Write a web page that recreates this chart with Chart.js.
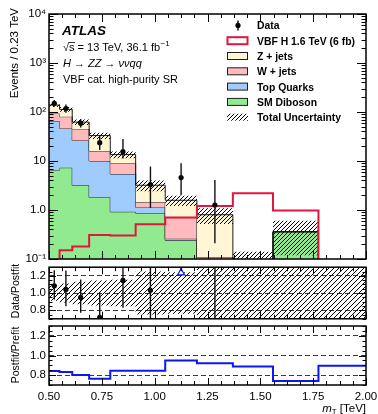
<!DOCTYPE html>
<html>
<head>
<meta charset="utf-8">
<script src="https://cdn.jsdelivr.net/npm/chart.js@4.4.1/dist/chart.umd.min.js"></script>
<style>
  html, body { margin: 0; padding: 0; background: #fff; }
  #page { position: relative; width: 378px; height: 414px; overflow: hidden; }
  #page canvas { position: absolute; left: 0; }
</style>
</head>
<body>
<div id="page">
  <canvas id="mainChart" width="378" height="272" style="top:0"></canvas>
  <canvas id="ratioChart" width="378" height="62" style="top:262px"></canvas>
  <canvas id="prefitChart" width="378" height="90" style="top:324px"></canvas>
</div>
<script>
// bin edges (TeV), variable width bins
const binEdges = [0.50, 0.55, 0.61, 0.69, 0.79, 0.91, 1.05, 1.20, 1.37, 1.56, 1.775, 2.00];

// events / 0.23 TeV per bin
const dibosonEvents = [6.5, 7.3, 3.2, 1.8, 0.92, 0.86, 0.24, 0.05, 0.01, 0.36, 0];
const topEvents     = [59, 39, 23, 8.2, 4.5, 0.27, 0.02, 0, 0, 0, 0];
const wjetsEvents   = [28, 34, 19, 6.0, 3.6, 0.31, 0.44, 0.06, 0.01, 0, 0];
const zjetsEvents   = [45, 33, 17, 17, 4.5, 1.76, 0.88, 0.69, 0.04, 0, 0];
const signalEvents  = [0.09, 0.15, 0.18, 0.31, 0.30, 0.51, 0.70, 1.21, 2.2, 0.98, 0];
const totalRelUnc   = [0.09, 0.11, 0.13, 0.145, 0.155, 0.25, 0.24, 0.35, 1.33, 0.67, 1.0];

const dataEvents  = [150, 118, 59, 23.7, 15.5, 3.3, 4.6, 1.26, null, null, null];
const dataErrDown = [22, 22, 11, 7, 4.3, 2.2, 2.6, 1.05, null, null, null];
const dataErrUp   = [25, 25, 13, 9.5, 12.5, 4.4, 4.4, 2.85, null, null, null];

const postfitOverPrefit = [0.843, 0.833, 0.802, 0.764, 0.846, 0.846, 0.949, 0.922, 0.887, 0.74, 0.897];

const xTickValues = [0.50, 0.75, 1.00, 1.25, 1.50, 1.75, 2.00];
const yMainTickValues = [0.1, 1, 10, 100, 1000, 10000];
const yMainTickLabels = ['10\u207B\u00B9', '1.0', '10', '10\u00B2', '10\u00B3', '10\u2074'];
const yRatioTickValues = [0.8, 1.0, 1.2];
const legendLabels = ['Data', 'VBF H 1.6 TeV (6 fb)', 'Z + jets', 'W + jets', 'Top Quarks', 'SM Diboson', 'Total Uncertainty'];

const colors = {
    zjets: '#fff6d6',
    wjets: '#ffbabe',
    top: '#9fcbfd',
    diboson: '#92ea90',
    signal: '#e2163c',
    edge: '#1e1e1e',
    postfit: '#0c16f2'
};
const FONT = '"Liberation Sans", Arial, Helvetica, sans-serif';

// ---- derived tables ----
const centers = binEdges.slice(0, -1).map((e, i) => (e + binEdges[i + 1]) / 2);
const stack1 = dibosonEvents.slice();
const stack2 = stack1.map((v, i) => v + topEvents[i]);
const stack3 = stack2.map((v, i) => v + wjetsEvents[i]);
const totalEvents = stack3.map((v, i) => v + zjetsEvents[i]);
const bandUp = totalEvents.map((v, i) => v * (1 + totalRelUnc[i]));
const bandDown = totalEvents.map((v, i) => Math.max(0, v * (1 - totalRelUnc[i])));
const ratioValues = dataEvents.map((d, i) => d == null ? null : d / totalEvents[i]);
const ratioMin = 0.7, ratioMax = 1.3;

// empty bins would break a log-scale line, push them far below the axis instead
const logFloor = v => Math.max(v, 1e-4);

function stepPoints(values) {
    const pts = values.map((v, i) => ({ x: binEdges[i], y: v }));
    pts.push({ x: binEdges[binEdges.length - 1], y: values[values.length - 1] });
    return pts;
}

function makeHatch(size) {
    const c = document.createElement('canvas');
    c.width = size; c.height = size;
    const g = c.getContext('2d');
    g.strokeStyle = '#000';
    g.lineWidth = 1;
    g.beginPath();
    g.moveTo(-1, size + 1); g.lineTo(size + 1, -1);
    g.moveTo(-1, 1); g.lineTo(1, -1);
    g.moveTo(size - 1, size + 1); g.lineTo(size + 1, size - 1);
    g.stroke();
    return g.createPattern(c, 'repeat');
}
const hatchMain = makeHatch(4);
const hatchRatio = makeHatch(5);

function stepLine(label, values, extra) {
    return Object.assign({
        label: label,
        data: stepPoints(values),
        stepped: 'before',
        pointRadius: 0,
        borderWidth: 1,
        borderColor: colors.edge
    }, extra);
}

// ---- plugins ----
const errorBars = {
    id: 'errorBars',
    afterDatasetsDraw(chart, args, opts) {
        const { ctx, chartArea: a, scales } = chart;
        ctx.save();
        ctx.beginPath();
        ctx.rect(a.left, a.top, a.width, a.height);
        ctx.clip();
        ctx.strokeStyle = '#111';
        ctx.lineWidth = 1.4;
        (opts.bars || []).forEach(b => {
            const px = scales.x.getPixelForValue(b.x);
            const y1 = b.lo > 0 || scales.y.type !== 'logarithmic' ? scales.y.getPixelForValue(b.lo) : a.bottom + 2;
            const y2 = scales.y.getPixelForValue(b.hi);
            ctx.beginPath();
            ctx.moveTo(px, y1);
            ctx.lineTo(px, y2);
            ctx.stroke();
        });
        ctx.restore();
    }
};

// ROOT-like frame with inward ticks on all four sides
const rootFrame = {
    id: 'rootFrame',
    afterDraw(chart, args, opts) {
        const { ctx, chartArea: a, scales } = chart;
        ctx.save();
        ctx.strokeStyle = '#000';
        ctx.lineWidth = 1;
        ctx.beginPath();
        const xs = scales.x;
        for (let k = 0; k <= 24; k++) {
            const v = xs.min + k * (xs.max - xs.min) / 24;
            const len = k % 4 === 0 ? opts.xMajor : opts.xMinor;
            const px = Math.round(xs.getPixelForValue(v)) + 0.5;
            ctx.moveTo(px, a.bottom); ctx.lineTo(px, a.bottom - len);
            ctx.moveTo(px, a.top); ctx.lineTo(px, a.top + len);
        }
        opts.yTicks.forEach(t => {
            const py = Math.round(scales.y.getPixelForValue(t.v)) + 0.5;
            const len = t.major ? opts.yMajor : opts.yMinor;
            ctx.moveTo(a.left, py); ctx.lineTo(a.left + len, py);
            ctx.moveTo(a.right, py); ctx.lineTo(a.right - len, py);
        });
        ctx.stroke();
        ctx.lineWidth = 1.5;
        ctx.strokeRect(a.left, a.top, a.right - a.left, a.bottom - a.top);
        ctx.restore();
    }
};

function sideTitle(ctx, text, x, y, align, size) {
    ctx.save();
    ctx.translate(x, y);
    ctx.rotate(-Math.PI / 2);
    ctx.textAlign = align;
    ctx.textBaseline = 'middle';
    ctx.font = size + 'px ' + FONT;
    ctx.fillStyle = '#000';
    ctx.fillText(text, 0, 0);
    ctx.restore();
}

const mainLabels = {
    id: 'mainLabels',
    afterDraw(chart) {
        const ctx = chart.ctx;
        ctx.save();
        ctx.fillStyle = '#000';
        ctx.textBaseline = 'alphabetic';
        ctx.textAlign = 'left';

        ctx.font = 'italic bold 13.5px ' + FONT;
        ctx.fillText('ATLAS', 62, 35);

        // sqrt(s) line
        ctx.font = '11px ' + FONT;
        let x = 63;
        ctx.fillText('\u221A', x, 51);
        x += ctx.measureText('\u221A').width;
        const sw = ctx.measureText('s').width;
        ctx.fillText('s', x, 51);
        ctx.lineWidth = 0.8;
        ctx.beginPath(); ctx.moveTo(x - 0.5, 42.5); ctx.lineTo(x + sw + 0.5, 42.5); ctx.stroke();
        x += sw;
        const txt = ' = 13 TeV, 36.1 fb';
        ctx.fillText(txt, x, 51);
        x += ctx.measureText(txt).width;
        ctx.font = '8px ' + FONT;
        ctx.fillText('\u22121', x + 0.5, 46);

        ctx.font = 'italic 11px ' + FONT;
        ctx.fillText('H \u2192 ZZ \u2192 \u03BD\u03BDqq', 63, 67);
        ctx.font = '11px ' + FONT;
        ctx.fillText('VBF cat. high-purity SR', 63, 83);

        // legend
        const fills = [null, '#fff', colors.zjets, colors.wjets, colors.top, colors.diboson, hatchMain];
        legendLabels.forEach((label, i) => {
            const base = 29.3 + i * 15.3;
            const cy = base - 3.9;
            if (i === 0) {
                ctx.strokeStyle = '#000';
                ctx.lineWidth = 1.4;
                ctx.beginPath(); ctx.moveTo(238, cy - 5); ctx.lineTo(238, cy + 5); ctx.stroke();
                ctx.beginPath(); ctx.arc(238, cy, 2.6, 0, Math.PI * 2); ctx.fill();
            } else if (i === 6) {
                ctx.fillStyle = hatchMain;
                ctx.fillRect(227, cy - 3.5, 21, 7);
            } else {
                ctx.fillStyle = fills[i];
                ctx.fillRect(227.5, cy - 3.5, 20, 7);
                ctx.strokeStyle = i === 1 ? colors.signal : colors.edge;
                ctx.lineWidth = i === 1 ? 2 : 1;
                ctx.strokeRect(227.5, cy - 3.5, 20, 7);
            }
            ctx.fillStyle = '#000';
            ctx.font = 'bold 10.4px ' + FONT;
            ctx.fillText(label, 257, base);
        });

        sideTitle(ctx, 'Events / 0.23 TeV', 15, 8, 'right', 11.5);
        ctx.restore();
    }
};

const ratioLabels = {
    id: 'ratioLabels',
    afterDraw(chart) {
        sideTitle(chart.ctx, 'Data/Postfit', 16, 29, 'center', 10.5);
    }
};

const prefitLabels = {
    id: 'prefitLabels',
    afterDraw(chart) {
        const ctx = chart.ctx;
        sideTitle(ctx, 'Postfit/Prefit', 16, 31, 'center', 10.5);
        ctx.save();
        ctx.fillStyle = '#000';
        ctx.textBaseline = 'alphabetic';
        ctx.textAlign = 'right';
        ctx.font = '11.5px ' + FONT;
        const rest = ' [TeV]';
        const xr = 366;
        ctx.fillText(rest, xr, 88);
        const wr = ctx.measureText(rest).width;
        ctx.font = '8px ' + FONT;
        ctx.fillText('T', xr - wr, 90);
        const wt = ctx.measureText('T').width;
        ctx.font = 'italic 11.5px ' + FONT;
        ctx.fillText('m', xr - wr - wt, 88);
        ctx.restore();
    }
};

// tick lists for the frames
const mainYTicks = [];
for (let d = -1; d <= 3; d++) {
    for (let k = 1; k <= 9; k++) mainYTicks.push({ v: k * Math.pow(10, d), major: k === 1 });
}
mainYTicks.push({ v: 1e4, major: true });
const ratioYTicks = [];
for (let k = 0; k <= 12; k++) {
    const v = ratioMin + k * 0.05;
    ratioYTicks.push({ v: v, major: Math.abs(v * 5 - Math.round(v * 5)) < 1e-6 });
}

function baseOptions(padding, yScale, xScale, framePlugin) {
    return {
        responsive: false,
        animation: false,
        events: [],
        layout: { padding: padding },
        elements: { point: { radius: 0 }, line: { tension: 0 } },
        plugins: {
            legend: { display: false },
            tooltip: { enabled: false },
            rootFrame: framePlugin,
            errorBars: { bars: [] }
        },
        scales: { x: xScale, y: yScale }
    };
}

const hiddenX = { type: 'linear', min: 0.5, max: 2.0, display: false };
const fitY = s => { s.width = 49; s.paddingTop = 0; s.paddingBottom = 0; };

// ---- main panel ----
const mainOpts = baseOptions(
    { top: 14, bottom: 13, left: 0, right: 12 },
    {
        type: 'logarithmic', min: 0.1, max: 10000,
        afterBuildTicks: s => { s.ticks = yMainTickValues.map(v => ({ value: v })); },
        afterFit: fitY,
        ticks: {
            autoSkip: false, padding: 3, color: '#000',
            font: { family: FONT, size: 11.5 },
            callback: (v, i) => yMainTickLabels[i]
        },
        grid: { display: false, drawTicks: false },
        border: { display: false }
    },
    hiddenX,
    { xMajor: 8, xMinor: 4, yMajor: 9, yMinor: 4.5, yTicks: mainYTicks }
);
mainOpts.plugins.errorBars.bars = dataEvents
    .map((d, i) => d == null ? null : { x: centers[i], lo: d - dataErrDown[i], hi: d + dataErrUp[i] })
    .filter(b => b);

new Chart(document.getElementById('mainChart'), {
    type: 'line',
    data: {
        datasets: [
            {
                label: 'Data',
                data: centers.map((c, i) => ({ x: c, y: dataEvents[i] })),
                showLine: false,
                pointRadius: 2.6,
                pointBackgroundColor: '#000',
                pointBorderColor: '#000',
                pointBorderWidth: 0
            },
            stepLine('VBF H 1.6 TeV (6 fb)', signalEvents.map(logFloor), { borderColor: colors.signal, borderWidth: 2, fill: false }),
            stepLine('Total Uncertainty', bandUp.map(logFloor), { borderColor: 'rgba(0,0,0,0)', fill: '+1', backgroundColor: hatchMain }),
            stepLine('band low', bandDown.map(logFloor), { borderColor: 'rgba(0,0,0,0)', fill: false }),
            stepLine('Z + jets', totalEvents.map(logFloor), { fill: '+1', backgroundColor: colors.zjets }),
            stepLine('W + jets', stack3.map(logFloor), { fill: '+1', backgroundColor: colors.wjets }),
            stepLine('Top Quarks', stack2.map(logFloor), { fill: '+1', backgroundColor: colors.top }),
            stepLine('SM Diboson', stack1.map(logFloor), { fill: 'start', backgroundColor: colors.diboson })
        ]
    },
    options: mainOpts,
    plugins: [errorBars, rootFrame, mainLabels]
});

// ---- Data / Postfit panel ----
function ratioY() {
    return {
        type: 'linear', min: ratioMin, max: ratioMax,
        afterBuildTicks: s => { s.ticks = yRatioTickValues.map(v => ({ value: v })); },
        afterFit: fitY,
        ticks: {
            autoSkip: false, padding: 3, color: '#000',
            font: { family: FONT, size: 11.5 },
            callback: v => v.toFixed(1)
        },
        grid: { display: true, drawTicks: false, color: '#3a3a3a', lineWidth: 1 },
        border: { display: false, dash: [5, 3] }
    };
}

const ratioOpts = baseOptions(
    { top: 1, bottom: 2, left: 0, right: 12 },
    ratioY(),
    hiddenX,
    { xMajor: 7, xMinor: 4, yMajor: 7, yMinor: 3.5, yTicks: ratioYTicks }
);
const ratioLow = dataEvents.map((d, i) => d == null ? null : (d - dataErrDown[i]) / totalEvents[i]);
const ratioHigh = dataEvents.map((d, i) => d == null ? null : (d + dataErrUp[i]) / totalEvents[i]);
ratioOpts.plugins.errorBars.bars = dataEvents
    .map((d, i) => d == null ? null : { x: centers[i], lo: ratioLow[i], hi: ratioHigh[i] })
    .filter(b => b);

// an open triangle marks points above the range whose error bar stays high
const arrowUp = ratioValues.map((r, i) => r != null && r > ratioMax && ratioLow[i] > 1);

new Chart(document.getElementById('ratioChart'), {
    type: 'line',
    data: {
        datasets: [
            {
                label: 'Data',
                data: centers.map((c, i) => ({ x: c, y: ratioValues[i] != null && ratioValues[i] <= ratioMax ? ratioValues[i] : null })),
                showLine: false,
                pointRadius: 2.6,
                pointBackgroundColor: '#000',
                pointBorderWidth: 0
            },
            {
                label: 'out of range',
                data: centers.map((c, i) => ({ x: c, y: arrowUp[i] ? ratioMax - 0.065 : null })),
                showLine: false,
                pointStyle: 'triangle',
                pointRadius: 4,
                pointBackgroundColor: '#fff',
                pointBorderColor: colors.postfit,
                pointBorderWidth: 1.2
            },
            stepLine('unc up', totalRelUnc.map(u => 1 + u), { borderColor: 'rgba(0,0,0,0)', fill: '+1', backgroundColor: hatchRatio }),
            stepLine('unc down', totalRelUnc.map(u => 1 - u), { borderColor: 'rgba(0,0,0,0)', fill: false })
        ]
    },
    options: ratioOpts,
    plugins: [errorBars, rootFrame, ratioLabels]
});

// ---- Postfit / Prefit panel ----
const prefitOpts = baseOptions(
    { top: 2, bottom: 0, left: 0, right: 12 },
    ratioY(),
    {
        type: 'linear', min: 0.5, max: 2.0,
        afterBuildTicks: s => { s.ticks = xTickValues.map(v => ({ value: v })); },
        afterFit: s => { s.height = 29; s.paddingLeft = 0; s.paddingRight = 0; },
        ticks: {
            autoSkip: false, maxRotation: 0, padding: 5, color: '#000',
            font: { family: FONT, size: 11.5 },
            callback: v => v.toFixed(2)
        },
        grid: { display: false, drawTicks: false },
        border: { display: false }
    },
    { xMajor: 7, xMinor: 4, yMajor: 7, yMinor: 3.5, yTicks: ratioYTicks }
);

new Chart(document.getElementById('prefitChart'), {
    type: 'line',
    data: {
        datasets: [
            stepLine('Postfit/Prefit', postfitOverPrefit, { borderColor: colors.postfit, borderWidth: 2, fill: false })
        ]
    },
    options: prefitOpts,
    plugins: [rootFrame, prefitLabels]
});
</script>
</body>
</html>
